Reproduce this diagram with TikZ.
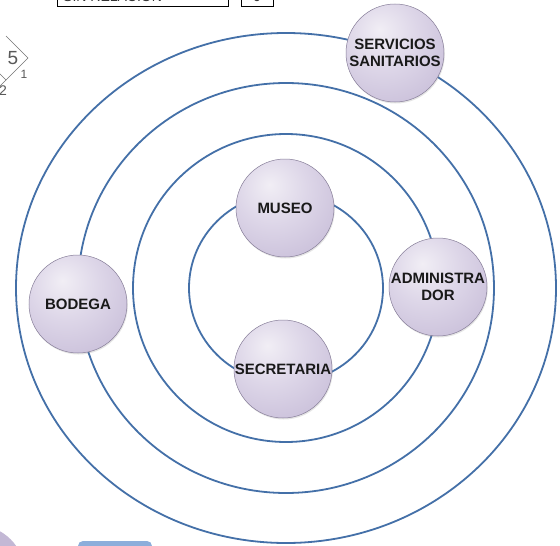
\documentclass[tikz,border=0pt]{standalone}
\usepackage{fontspec}
\setmainfont{Liberation Sans}
\usetikzlibrary{shadows}
\definecolor{ringblue}{HTML}{4470A8}
\definecolor{lavA}{HTML}{F1EEF5}
\definecolor{lavB}{HTML}{DDD6E8}
\definecolor{lavC}{HTML}{C3B8D5}
\definecolor{lavD}{HTML}{A99DBF}
\definecolor{tabblue}{HTML}{8DAEDB}
\pgfdeclareradialshading{sphere}{\pgfpoint{-8bp}{12bp}}{%
  color(0bp)=(lavA); color(18bp)=(lavB); color(44bp)=(lavC);
  color(54bp)=(lavD); color(100bp)=(lavD)}
\tikzset{
  ring/.style={draw=ringblue, line width=1.8pt},
  room/.style={circle, minimum size=98pt, inner sep=0pt, shading=sphere,
    draw=lavD!80!black, line width=0.5pt, align=center, text=black!90,
    font=\fontsize{15}{16.5}\selectfont\bfseries,
    drop shadow={opacity=0.2, shadow xshift=0.8pt, shadow yshift=-1.5pt}},
  glyph/.style={draw=black!55, line width=0.7pt},
  tag/.style={inner sep=0pt, font=\fontsize{14}{16}\selectfont, text=black!80}
}
\begin{document}
\begin{tikzpicture}[x=1pt,y=-1pt]
\useasboundingbox (0,0) rectangle (560,546);
\clip (0,0) rectangle (560,546);
\fill[white] (0,0) rectangle (560,546);

% header boxes, cut at the top edge
\draw[line width=0.8pt] (57,-20) rectangle (228,6);
\draw[line width=0.8pt] (241,-20) rectangle (273,6);
\node[tag, anchor=base west] (hdr) at (63,1.5) {SIN RELACION};
\node[tag, anchor=base] (hdrval) at (257,1.5) {0};

% relation grid fragment
\draw[glyph] (6,36) -- (28,58) -- (6,80) -- (-16,58);
\draw[glyph] (6,80) -- (-10,96);
\node[tag, text=black!65] (v5) at (13,58) {\fontsize{19}{19}\selectfont 5};
\node[tag, text=black!65] (v1) at (24,74) {\fontsize{12}{12}\selectfont 1};
\node[tag, text=black!65] (v2) at (3,91) {\fontsize{14}{14}\selectfont 2};

% concentric rings
\coordinate (c) at (286,288);
\draw[ring] (c) ellipse [x radius=270, y radius=255];
\draw[ring] (c) ellipse [x radius=208, y radius=205];
\draw[ring] (c) ellipse [x radius=153, y radius=154];
\draw[ring] (c) ellipse [x radius=97, y radius=95];

% spaces
\node[room] (san) at (395,53) {SERVICIOS\\SANITARIOS};
\node[room] (mus) at (285,208) {MUSEO};
\node[room] (adm) at (438,287) {ADMINISTRA\\DOR};
\node[room] (bod) at (78,304) {BODEGA};
\node[room] (sec) at (283,369) {SECRETARIA};

% elements cut at the bottom edge
\fill[lavC] (-24,574) circle [radius=49];
\fill[tabblue, rounded corners=5pt] (78,541) rectangle (152,570);
\end{tikzpicture}
\end{document}
